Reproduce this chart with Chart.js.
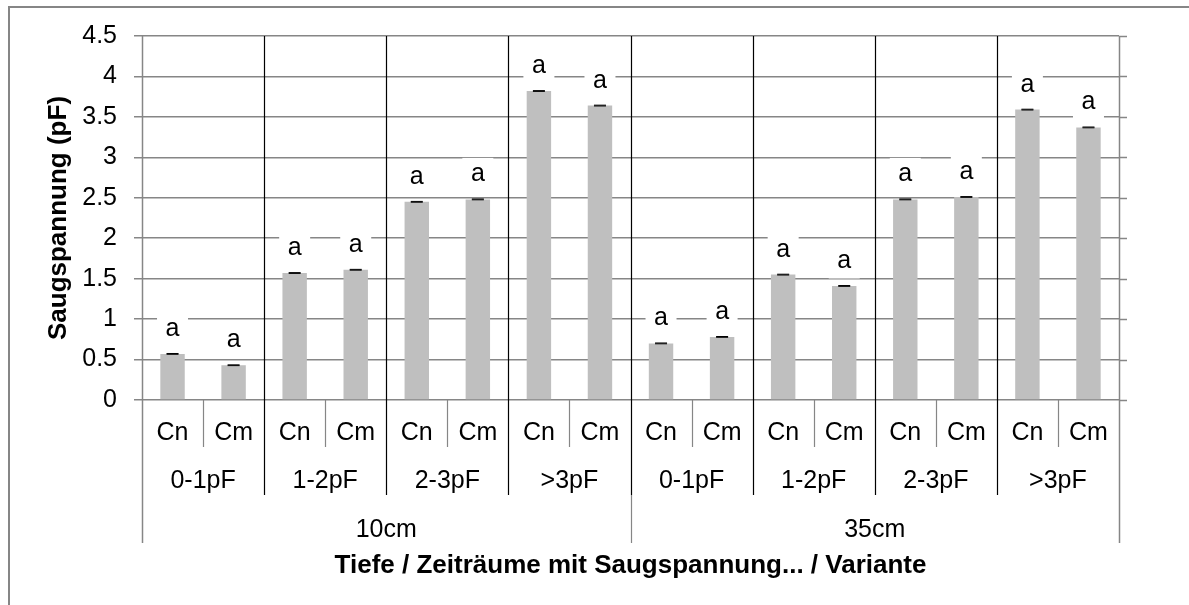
<!DOCTYPE html>
<html>
<head>
<meta charset="utf-8">
<script src="https://cdn.jsdelivr.net/npm/chart.js@4"></script>
<style>
  html, body { margin: 0; padding: 0; background: #fff; }
  #wrap { width: 1189px; height: 605px; }
</style>
</head>
<body>
<div id="wrap"><canvas id="myChart" width="1189" height="605"></canvas></div>
<script>
// Saugspannung je Tiefe / Zeitraum / Variante
const tiefen = ['10cm', '35cm'];
const zeitraeume = ['0-1pF', '1-2pF', '2-3pF', '>3pF'];
const varianten = ['Cn', 'Cm'];

const werte = [0.57, 0.43, 1.57, 1.61, 2.45, 2.48, 3.82, 3.64,
               0.70, 0.78, 1.55, 1.41, 2.48, 2.51, 3.59, 3.37];
const fehler = [0.005, 0.005, 0.005, 0.005, 0.005, 0.005, 0.005, 0.005,
                0.005, 0.005, 0.005, 0.005, 0.005, 0.005, 0.005, 0.005];
const buchstaben = ['a', 'a', 'a', 'a', 'a', 'a', 'a', 'a',
                    'a', 'a', 'a', 'a', 'a', 'a', 'a', 'a'];
const yTicks = [0, 0.5, 1, 1.5, 2, 2.5, 3, 3.5, 4, 4.5];

const yTitel = 'Saugspannung (pF)';
const xTitel = 'Tiefe / Zeiträume mit Saugspannung... / Variante';

const labels = [];
tiefen.forEach(t => zeitraeume.forEach(z => varianten.forEach(v => labels.push(v))));

const FONT = "'Liberation Sans', Arial, sans-serif";
const GRAU = '#868686';

const zeichnen = {
    id: 'zeichnen',
    afterDatasetsDraw(chart) {
        const ctx = chart.ctx;
        const x = chart.scales.x;
        const y = chart.scales.y;
        const area = chart.chartArea;
        const n = labels.length;
        const step = (x.getPixelForValue(1) - x.getPixelForValue(0));
        const grenze = i => Math.round(x.getPixelForValue(i) - step / 2) + 0.5;

        ctx.save();
        // gridlines right extension
        ctx.strokeStyle = GRAU;
        ctx.lineWidth = 1.5;
        yTicks.forEach(t => {
            const py = Math.round(y.getPixelForValue(t)) + 0.5;
            ctx.beginPath();
            ctx.moveTo(area.right, py);
            ctx.lineTo(area.right + 8, py);
            ctx.stroke();
        });

        // error bars
        ctx.strokeStyle = '#000';
        ctx.lineWidth = 1;
        werte.forEach((v, i) => {
            const px = x.getPixelForValue(i);
            const hi = y.getPixelForValue(v + fehler[i]);
            const lo = y.getPixelForValue(v - fehler[i]);
            ctx.beginPath();
            ctx.moveTo(px - 6, hi); ctx.lineTo(px + 6, hi);
            ctx.moveTo(px - 6, lo); ctx.lineTo(px + 6, lo);
            ctx.stroke();
        });

        // letter labels with white boxes
        ctx.font = '25px ' + FONT;
        ctx.textAlign = 'center';
        ctx.textBaseline = 'alphabetic';
        werte.forEach((v, i) => {
            const px = x.getPixelForValue(i);
            const top = y.getPixelForValue(v);
            ctx.fillStyle = '#fff';
            ctx.fillRect(px - 15.5, top - 41.5, 31, 34);
            ctx.fillStyle = '#000';
            ctx.fillText(buchstaben[i], px, top - 18);
        });

        // separators
        const row1 = area.bottom + 47;
        const row2 = area.bottom + 95;
        const row3 = area.bottom + 143;
        ctx.lineWidth = 1.2;
        for (let i = 1; i < n; i++) {
            const gx = grenze(i);
            ctx.beginPath();
            if (i % 2 === 1) {
                ctx.strokeStyle = GRAU;
                ctx.moveTo(gx, area.bottom);
                ctx.lineTo(gx, row1);
                ctx.stroke();
            } else {
                ctx.strokeStyle = '#000';
                ctx.moveTo(gx, area.top);
                ctx.lineTo(gx, row2);
                ctx.stroke();
                if (i % 8 === 0) {
                    ctx.beginPath();
                    ctx.strokeStyle = GRAU;
                    ctx.moveTo(gx, row2);
                    ctx.lineTo(gx, row3);
                    ctx.stroke();
                }
            }
        }
        ctx.strokeStyle = GRAU;
        ctx.lineWidth = 1.5;
        [grenze(0), grenze(n)].forEach(gx => {
            ctx.beginPath();
            ctx.moveTo(gx, area.top);
            ctx.lineTo(gx, row3);
            ctx.stroke();
        });

        // x category labels
        ctx.fillStyle = '#000';
        ctx.font = '25px ' + FONT;
        labels.forEach((l, i) => ctx.fillText(l, x.getPixelForValue(i), 440));
        for (let j = 0; j < n / 2; j++) {
            const cx = (x.getPixelForValue(2 * j) + x.getPixelForValue(2 * j + 1)) / 2;
            ctx.fillText(zeitraeume[j % zeitraeume.length], cx, 488);
        }
        tiefen.forEach((t, k) => {
            const cx = (x.getPixelForValue(8 * k) + x.getPixelForValue(8 * k + 7)) / 2;
            ctx.fillText(t, cx, 537);
        });

        // axis titles
        ctx.font = 'bold 26px ' + FONT;
        ctx.fillText(xTitel, (area.left + area.right) / 2, 573);
        ctx.translate(66, (area.top + area.bottom) / 2);
        ctx.rotate(-Math.PI / 2);
        ctx.fillText(yTitel, 0, 0);
        ctx.restore();

        // outer frame (only top and left visible)
        ctx.save();
        ctx.strokeStyle = GRAU;
        ctx.lineWidth = 2;
        ctx.strokeRect(9, 7, 1400, 800);
        ctx.restore();
    }
};

const ctx = document.getElementById('myChart');

new Chart(ctx, {
    type: 'bar',
    data: {
        labels: labels,
        datasets: [{
            label: 'Saugspannung',
            data: werte,
            backgroundColor: '#bfbfbf',
            borderWidth: 0,
            categoryPercentage: 1,
            barPercentage: 0.4
        }]
    },
    options: {
        responsive: false,
        animation: false,
        devicePixelRatio: 1,
        layout: { padding: { left: 0, right: 70, top: 36, bottom: 205 } },
        plugins: {
            legend: { display: false },
            tooltip: { enabled: false }
        },
        scales: {
            x: { display: false },
            y: {
                min: 0,
                max: 4.5,
                afterFit: s => { s.width = 142; },
                afterBuildTicks: s => { s.ticks = yTicks.map(v => ({ value: v })); },
                border: { display: false },
                grid: { color: GRAU, lineWidth: 1.5, tickLength: 8 },
                ticks: {
                    padding: 17,
                    color: '#000',
                    font: { family: FONT, size: 25 },
                    callback: v => String(v)
                }
            }
        }
    },
    plugins: [zeichnen]
});
</script>
</body>
</html>
